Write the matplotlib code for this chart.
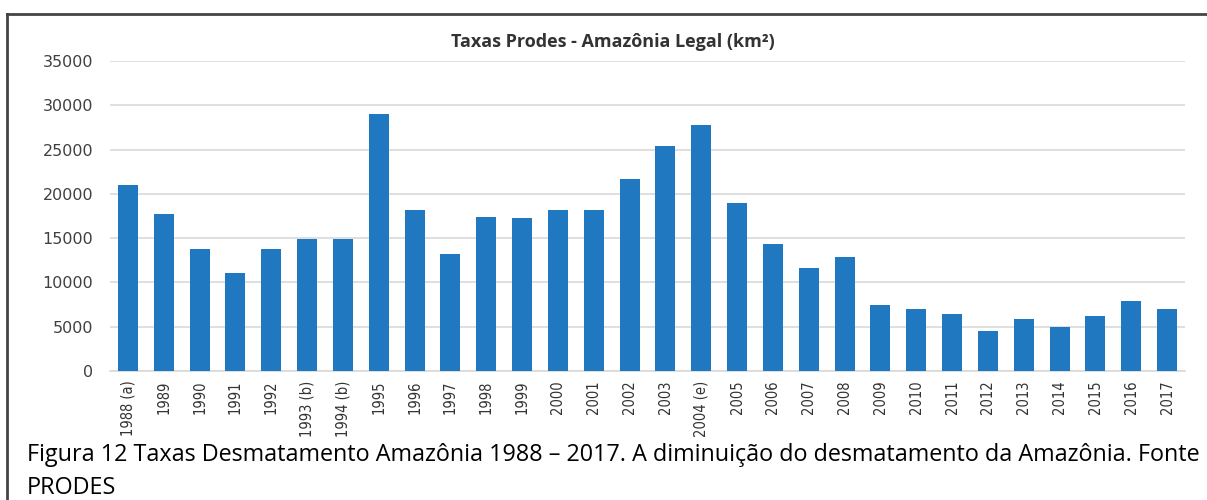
import matplotlib
matplotlib.use("Agg")
import matplotlib.pyplot as plt
import numpy as np

anos = ["1988 (a)", "1989", "1990", "1991", "1992", "1993 (b)", "1994 (b)",
        "1995", "1996", "1997", "1998", "1999", "2000", "2001", "2002", "2003",
        "2004 (e)", "2005", "2006", "2007", "2008", "2009", "2010", "2011",
        "2012", "2013", "2014", "2015", "2016", "2017"]
taxas = [21050, 17770, 13730, 11030, 13786, 14896, 14896, 29059, 18161, 13227,
         17383, 17259, 18226, 18165, 21651, 25396, 27772, 19014, 14286, 11651,
         12911, 7464, 7000, 6418, 4571, 5891, 5012, 6207, 7893, 6947]
yticks = [0, 5000, 10000, 15000, 20000, 25000, 30000, 35000]

titulo = "Taxas Prodes - Amazônia Legal (km²)"
legenda1 = ("Figura 12 Taxas Desmatamento Amazônia 1988 – 2017. A diminuição do "
            "desmatamento da Amazônia. Fonte")
legenda2 = "PRODES"

fig = plt.figure(figsize=(12.07, 5.0), dpi=100)
ax = fig.add_axes([110 / 1207, 1 - 371 / 500, 1075 / 1207, 310 / 500])

x = np.arange(len(anos))
ax.bar(x, taxas, width=0.56, color="#2079c0", zorder=3)

ax.set_xlim(-0.5, len(anos) - 0.5)
ax.set_ylim(0, 35000)
ax.set_yticks(yticks)
ax.set_yticklabels([str(v) for v in yticks], fontsize=11.5, color="#404040",
                   family="DejaVu Sans")
ax.set_xticks(x)
ax.set_xticklabels(anos, rotation=90, fontsize=10.5, color="#333333",
                   family="DejaVu Sans", fontstretch="condensed")
ax.tick_params(axis="x", length=0, pad=7)
ax.tick_params(axis="y", length=0, pad=12)
ax.grid(axis="y", color="#d9d9d9", linewidth=1.2, zorder=0)
for s in ["top", "right", "left"]:
    ax.spines[s].set_visible(False)
ax.spines["bottom"].set_color("#d9d9d9")
ax.spines["bottom"].set_linewidth(1.2)

fig.text(613 / 1207, 1 - 42 / 500, titulo, ha="center", va="center",
         fontsize=13, fontweight="bold", color="#333333", family="Open Sans")

fig.text(27 / 1207, 1 - 461 / 500, legenda1, ha="left", va="baseline",
         fontsize=16.8, color="black", family="Open Sans")
fig.text(27 / 1207, 1 - 494 / 500, legenda2, ha="left", va="baseline",
         fontsize=16.8, color="black", family="Open Sans")

# moldura
fig.add_artist(plt.Line2D([7 / 1207, 1], [1 - 14 / 500, 1 - 14 / 500],
                          color="#444444", linewidth=2, transform=fig.transFigure))
fig.add_artist(plt.Line2D([7 / 1207, 7 / 1207], [0, 1 - 14 / 500],
                          color="#444444", linewidth=2, transform=fig.transFigure))

fig.savefig("out.png", dpi=100)
